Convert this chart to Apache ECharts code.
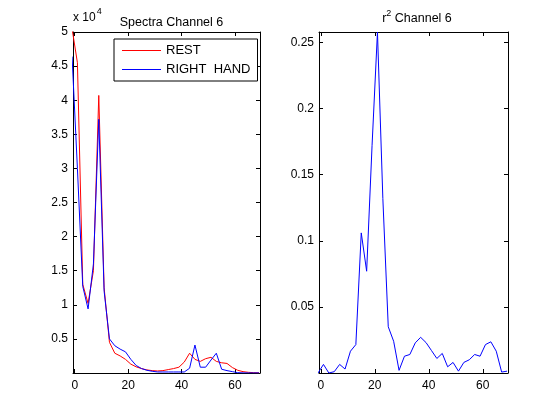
<!DOCTYPE html>
<html>
<head>
<meta charset="utf-8">
<script src="https://cdn.jsdelivr.net/npm/echarts@6/dist/echarts.min.js"></script>
<style>
  html, body { margin: 0; padding: 0; background: #fff; }
  #chart { width: 560px; height: 420px; }
</style>
</head>
<body>
<div id="chart"></div>
<script>
// frequency bins, shared by both panels
const freq = [-1, 1, 3, 5, 7, 9, 11, 13, 15, 17, 19, 21, 23, 25, 27, 29, 31, 33,
  35, 37, 39, 41, 43, 45, 47, 49, 51, 53, 55, 57, 59, 61, 63, 65, 67, 69];

// spectra, channel 6
const rest = [50500, 45500, 13000, 10200, 15000, 40700, 12500, 4500, 2900, 2500,
  2000, 1300, 900, 650, 450, 350, 300, 350, 500, 650,
  850, 1600, 2900, 2000, 1700, 2100, 2300, 1700, 1500, 1400,
  800, 400, 200, 100, 50, 30];
const rightHand = [46400, 30000, 12700, 9400, 16000, 37200, 12000, 5000, 4000, 3500,
  3100, 2000, 1100, 650, 400, 250, 150, 150, 150, 150,
  150, 150, 700, 4100, 850, 850, 1900, 2900, 550, 350,
  200, 50, 20, 10, 10, 10];

// r^2, channel 6
const r2 = [0.0, 0.0065, 0.0, 0.001, 0.0065, 0.003, 0.0165, 0.0215, 0.106, 0.077,
  0.172, 0.258, 0.132, 0.035, 0.024, 0.002, 0.0127, 0.014, 0.0228, 0.027,
  0.023, 0.017, 0.011, 0.0148, 0.0047, 0.008, 0.0014, 0.008, 0.010, 0.014,
  0.0127, 0.0215, 0.0236, 0.0165, 0.0007, 0.0014];

const xTicks = [0, 20, 40, 60];

const font = 'Liberation Sans, Arial, sans-serif';
const black = '#000';

const pairs = (ys) => freq.map((f, i) => [f, ys[i]]);

// x axis (bottom with labels, top only ticks)
function xAxis(grid, pos) {
  return {
    type: 'value', gridIndex: grid, position: pos,
    min: -0.65, max: 69.35,
    axisLine: { show: true, onZero: false, lineStyle: { color: black, width: 1 } },
    axisTick: { show: true, inside: true, length: 4, customValues: xTicks, lineStyle: { color: black } },
    axisLabel: { show: pos === 'bottom', customValues: xTicks, color: black, fontSize: 12, fontFamily: font, margin: 7 },
    splitLine: { show: false }
  };
}

// y axis (left with labels, right only ticks)
function yAxis(grid, pos, max, step, fmt) {
  return {
    type: 'value', gridIndex: grid, position: pos,
    min: 0, max: max, interval: step,
    axisLine: { show: true, onZero: false, lineStyle: { color: black, width: 1 } },
    axisTick: { show: true, inside: true, length: 4, lineStyle: { color: black } },
    axisLabel: { show: pos === 'left', color: black, fontSize: 12, fontFamily: font, margin: 5, formatter: fmt },
    splitLine: { show: false }
  };
}

const myChart = echarts.init(document.getElementById('chart'));

const leftY = yAxis(0, 'left', 50000, 5000, v => v === 0 ? '' : String(v / 10000));
leftY.name = '{a|x 10}{b|4}';
leftY.nameLocation = 'end';
leftY.nameGap = 4;
leftY.nameTextStyle = {
  align: 'left', verticalAlign: 'bottom', color: black, fontFamily: font,
  rich: {
    a: { fontSize: 12, fontFamily: font, color: black },
    b: { fontSize: 9, fontFamily: font, color: black, padding: [0, 0, 12, 1] }
  }
};

myChart.setOption({
  animation: false,
  backgroundColor: '#fff',
  title: [
    {
      text: 'Spectra Channel 6', left: 166.5, top: 11, textAlign: 'center',
      textStyle: { fontSize: 12.5, fontWeight: 'normal', color: black, fontFamily: font }
    },
    {
      text: '{a|r}{b|2}{a| Channel 6}', left: 412, top: 4, textAlign: 'center',
      textStyle: {
        fontWeight: 'normal', color: black, fontFamily: font,
        rich: {
          a: { fontSize: 12.5, fontFamily: font, color: black },
          b: { fontSize: 9, fontFamily: font, color: black, padding: [0, 0, 11, 0] }
        }
      }
    }
  ],
  legend: {
    data: ['REST', 'RIGHT  HAND'],
    orient: 'vertical', left: 114, top: 39,
    padding: [5, 7, 5, 8], itemGap: 6,
    itemWidth: 39, itemHeight: 1, icon: 'rect',
    borderColor: black, borderWidth: 1, backgroundColor: '#fff',
    selectedMode: false,
    textStyle: { fontSize: 13, color: black, fontFamily: font }
  },
  grid: [
    { left: 73, top: 32, width: 187, height: 341 },
    { left: 319, top: 32, width: 189, height: 341 }
  ],
  xAxis: [xAxis(0, 'bottom'), xAxis(0, 'top'), xAxis(1, 'bottom'), xAxis(1, 'top')],
  yAxis: [
    leftY,
    yAxis(0, 'right', 50000, 5000),
    yAxis(1, 'left', 0.258, 0.05, v => v === 0 ? '' : String(+v.toFixed(2))),
    yAxis(1, 'right', 0.258, 0.05)
  ],
  series: [
    {
      name: 'REST', type: 'line', xAxisIndex: 0, yAxisIndex: 0,
      showSymbol: false, clip: true, color: '#ff0000',
      lineStyle: { color: '#ff0000', width: 1 },
      data: pairs(rest)
    },
    {
      name: 'RIGHT  HAND', type: 'line', xAxisIndex: 0, yAxisIndex: 0,
      showSymbol: false, clip: true, color: '#0000ff',
      lineStyle: { color: '#0000ff', width: 1 },
      data: pairs(rightHand)
    },
    {
      name: 'r2', type: 'line', xAxisIndex: 2, yAxisIndex: 2,
      showSymbol: false, clip: true, color: '#0000ff',
      lineStyle: { color: '#0000ff', width: 1 },
      data: pairs(r2)
    }
  ]
});
</script>
</body>
</html>
